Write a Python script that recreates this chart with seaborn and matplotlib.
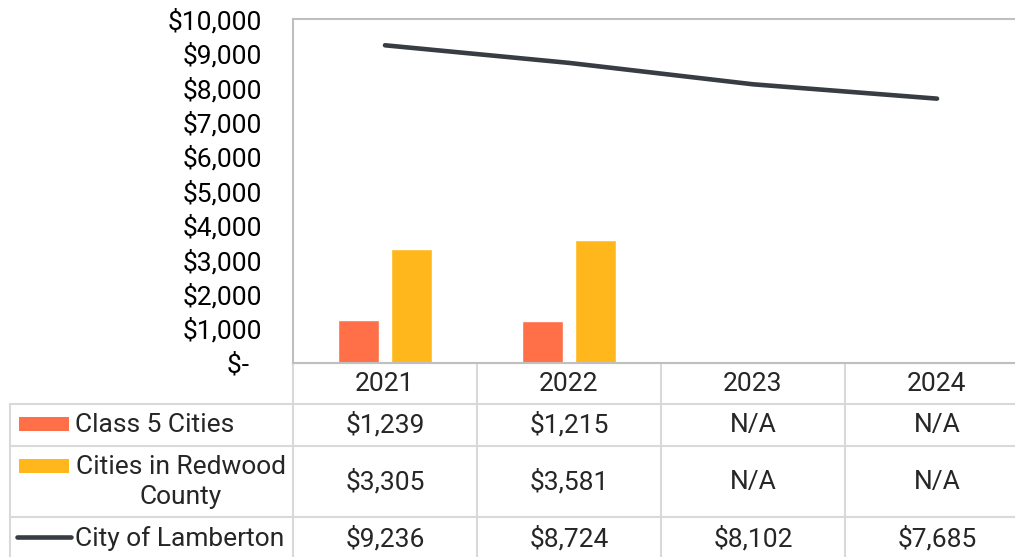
import numpy as np
import pandas as pd
import matplotlib
matplotlib.use("Agg")
import matplotlib.pyplot as plt
from matplotlib.patches import Rectangle
from matplotlib.ticker import FuncFormatter, MultipleLocator
import seaborn as sns

years = ["2021", "2022", "2023", "2024"]
class5 = [1239, 1215, np.nan, np.nan]
redwood = [3305, 3581, np.nan, np.nan]
lamberton = [9236, 8724, 8102, 7685]
series_names = ["Class 5 Cities", "Cities in Redwood\nCounty", "City of Lamberton"]
bar_colors = ["#FF7049", "#FFB71B"]
line_color = "#373D42"

W, H = 1015, 557
FS = 19

sns.set_theme(style="white")
plt.rcParams["font.family"] = ["Roboto", "DejaVu Sans"]

# long-form table for the bar series
bars = pd.DataFrame({
    "year": years * 2,
    "series": [series_names[0]] * 4 + [series_names[1]] * 4,
    "value": class5 + redwood,
}).dropna()

fig = plt.figure(figsize=(W / 100, H / 100), dpi=100)
ax = fig.add_axes([293 / W, 1 - 363 / H, 736 / W, 344 / H])

sns.barplot(data=bars, x="year", y="value", hue="series", order=years,
            hue_order=series_names[:2], palette=bar_colors, width=0.576,
            gap=0.21, errorbar=None, legend=False, saturation=1, ax=ax)
sns.lineplot(x=np.arange(len(years)), y=lamberton, color=line_color,
             linewidth=3.3, ax=ax, solid_capstyle="round")

ax.set_xlim(-0.5, 3.5)
ax.set_ylim(0, 10000)
ax.yaxis.set_major_locator(MultipleLocator(1000))
ax.yaxis.set_major_formatter(FuncFormatter(
    lambda v, p: "$-  " if v == 0 else f"${v:,.0f}"))
ax.tick_params(axis="y", length=0, pad=22, labelsize=FS, labelcolor="black")
ax.set_xticks([])
ax.set_xlabel("")
ax.set_ylabel("")
for s in ax.spines.values():
    s.set_color("#BFBFBF")
    s.set_linewidth(1.5)

# data table below the plot, drawn on an overlay in pixel units
tab = fig.add_axes([0, 0, 1, 1], zorder=-1)
tab.set_xlim(0, W)
tab.set_ylim(H, 0)
tab.axis("off")
grid = "#D9D9D9"
cols = [293, 477, 661, 845, 1029]
rows = [363, 404, 446, 517, 557]
for x in cols:
    tab.plot([x, x], [363, H], color=grid, lw=1.5)
tab.plot([10, 10], [404, H], color=grid, lw=1.5)
tab.plot([293, W], [363, 363], color=grid, lw=1.5)
for y in rows[1:4]:
    tab.plot([10, W], [y, y], color=grid, lw=1.5)

centers = [(cols[i] + cols[i + 1]) / 2 for i in range(4)]
for c, yr in zip(centers, years):
    tab.text(c, 384, yr, ha="center", va="center", fontsize=FS)

row_vals = [class5, redwood, lamberton]
row_y = [425, 482, 539]
for vals, y in zip(row_vals, row_y):
    for c, v in zip(centers, vals):
        txt = "N/A" if np.isnan(v) else f"${v:,.0f}"
        tab.text(c, y, txt, ha="center", va="center", fontsize=FS)

# legend keys and row labels
tab.add_patch(Rectangle((19, 417), 50, 14, color=bar_colors[0], lw=0))
tab.text(75, 425, series_names[0], ha="left", va="center", fontsize=FS)
tab.add_patch(Rectangle((19, 459), 50, 14, color=bar_colors[1], lw=0))
tab.text(181, 482, series_names[1], ha="center", va="center", fontsize=FS,
         multialignment="center", linespacing=1.32)
tab.plot([17, 71], [537, 537], color=line_color, lw=3.3, solid_capstyle="round")
tab.text(75, 539, series_names[2], ha="left", va="center", fontsize=FS)

fig.savefig("out.png", dpi=100)
